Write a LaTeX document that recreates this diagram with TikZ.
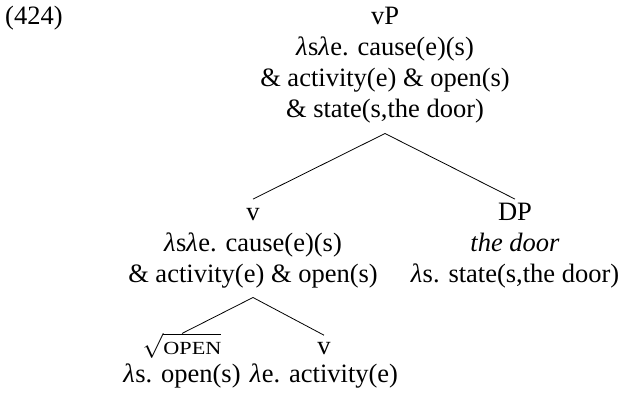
\documentclass[tikz,border=0pt]{standalone}
\usepackage{fontspec}
\setmainfont{Liberation Serif}
\newfontfamily\scfont[FakeStretch=1.2]{Liberation Serif}
\newcommand\tstack[1]{\vtop{\halign{\hfil##\hfil\cr#1\crcr}}}
\newcommand\lam{{\itshape λ}\kern0.5pt}
\begin{document}
\begin{tikzpicture}[x=1pt,y=-1pt,
  lbl/.style={inner sep=0pt, anchor=base, font=\fontsize{26.5}{31}\selectfont},
  lblb/.style={inner sep=0pt, anchor=base, font=\fontsize{26.5}{28}\selectfont},
  branch/.style={line width=0.8pt}]
\useasboundingbox (0,0) rectangle (622,395);
\node[lbl, anchor=base west] (ex) at (5,25) {(424)};
\node[lbl] (vp) at (385,25) {\tstack{\strut vP\cr \lam s\lam e. cause(e)(s)\cr \& activity(e) \& open(s)\cr \& state(s,the door)\strut}};
\node[lbl] (v) at (253,221) {\tstack{\strut v\cr \lam s\lam e. cause(e)(s)\cr \& activity(e) \& open(s)\strut}};
\node[lbl] (dp) at (515,221) {\tstack{\strut DP\cr \textit{the door}\cr \lam s. state(s,the door)\strut}};
\node[lblb] (rt) at (182,355) {\tstack{\strut$\sqrt{\rule{0pt}{16.5pt}\hbox{\fontsize{18.5}{20}\scfont OPEN}}$\cr \lam s. open(s)\strut}};
\node[lblb] (vl) at (324,355) {\tstack{\strut v\cr \lam e. activity(e)\strut}};
\draw[branch] ([yshift=-6pt]vp.south) -- (v.north);
\draw[branch] ([yshift=-6pt]vp.south) -- (dp.north);
\draw[branch] ([yshift=-5pt]v.south) -- ([yshift=-1pt]rt.north);
\draw[branch] ([yshift=-5pt]v.south) -- (vl.north);
\end{tikzpicture}
\end{document}
